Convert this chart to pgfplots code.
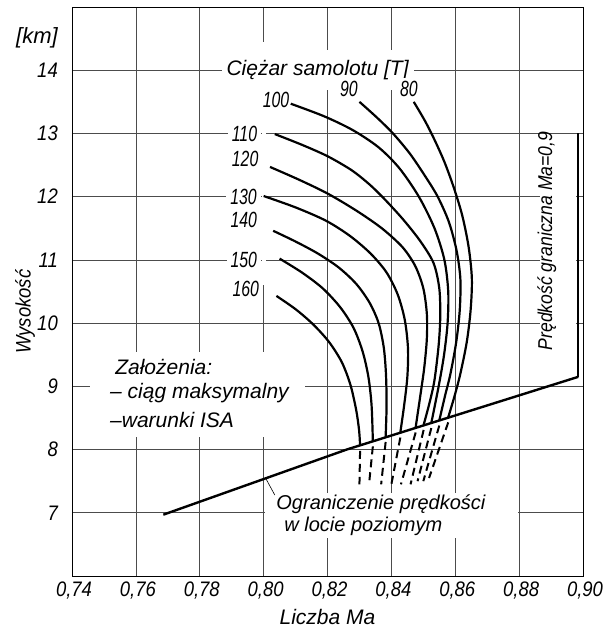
\documentclass[border=0pt]{standalone}
\usepackage{fontspec}
\setmainfont{Liberation Sans}
\newfontfamily\tfont{Liberation Sans}[FakeStretch=0.88]
\newfontfamily\afont{Liberation Sans}
\newfontfamily\nfont{Liberation Sans}[FakeStretch=0.72]
\usepackage{pgfplots}
\pgfplotsset{compat=1.18}
\begin{document}
\begin{tikzpicture}
\begin{axis}[
  name=ax,
  width=511pt, height=569pt, scale only axis,
  xmin=0.74, xmax=0.90, ymin=6, ymax=15,
  xtick={0.74,0.76,0.78,0.80,0.82,0.84,0.86,0.88,0.90},
  xticklabels={{0,74},{0,76},{0,78},{0,80},{0,82},{0,84},{0,86},{0,88},{0,90}},
  ytick={7,8,9,10,11,12,13,14},
  /pgf/number format/assume math mode=true,
  grid=major,
  major grid style={line width=0.6pt, black!70},
  major tick length=0pt,
  axis line style={line width=0.9pt},
  xticklabel style={font=\tfont\itshape\fontsize{21}{25}\selectfont, anchor=center, yshift=-15pt, xshift=2pt, inner sep=0pt},
  yticklabel style={font=\tfont\itshape\fontsize{21}{25}\selectfont, anchor=east, xshift=-14pt, inner sep=0pt},
  clip=false,
]
% masks over grid (white)
\fill[white] (axis cs:0.7456,8.2) rectangle (axis cs:0.813,9.55);
\fill[white] (axis cs:0.8865,9.4) rectangle (axis cs:0.8978,12.95);
\draw[white, line width=4pt] (axis cs:0.80,14.45) -- (axis cs:0.80,10.6);
\draw[white, line width=4pt] (axis cs:0.8005,7.0) -- (axis cs:0.8795,7.0);

% texts
\node[font=\afont\itshape\fontsize{21}{25}\selectfont, fill=white, inner xsep=5pt, inner ysep=10pt] at (axis cs:0.8169,14.0) {Ciężar samolotu [T]};
\node[font=\nfont\itshape\fontsize{22}{26}\selectfont, fill=white, inner sep=3pt] at (axis cs:0.8267,13.70) {90};
\node[font=\nfont\itshape\fontsize{22}{26}\selectfont, fill=white, inner sep=3pt] at (axis cs:0.8455,13.70) {80};
\node[font=\nfont\itshape\fontsize{22}{26}\selectfont, fill=white, inner sep=3pt] at (axis cs:0.8039,13.53) {100};
\node[font=\nfont\itshape\fontsize{22}{26}\selectfont, fill=white, inner sep=4pt] at (axis cs:0.7940,13.00) {110};
\node[font=\nfont\itshape\fontsize{22}{26}\selectfont, fill=white, inner sep=3pt] at (axis cs:0.7942,12.60) {120};
\node[font=\nfont\itshape\fontsize{22}{26}\selectfont, fill=white, inner sep=4pt] at (axis cs:0.7937,12.00) {130};
\node[font=\nfont\itshape\fontsize{22}{26}\selectfont, fill=white, inner sep=3pt] at (axis cs:0.7938,11.63) {140};
\node[font=\nfont\itshape\fontsize{22}{26}\selectfont, fill=white, inner sep=4pt] at (axis cs:0.7938,11.00) {150};
\node[font=\nfont\itshape\fontsize{22}{26}\selectfont, fill=white, inner sep=3pt] at (axis cs:0.7944,10.54) {160};

\node[font=\afont\itshape\fontsize{21}{25}\selectfont, anchor=west, inner sep=0pt] at (axis cs:0.7535,9.31) {Założenia:};
\node[font=\afont\itshape\fontsize{21}{25}\selectfont, anchor=west, inner sep=0pt] at (axis cs:0.7519,8.90) {– ciąg maksymalny};
\node[font=\afont\itshape\fontsize{21}{25}\selectfont, anchor=west, inner sep=0pt] at (axis cs:0.7519,8.47) {–warunki ISA};

\node[font=\afont\itshape\fontsize{20}{24}\selectfont, anchor=north west, align=left, fill=white, inner xsep=3pt, inner ysep=2pt] at (axis cs:0.8030,7.32) {Ograniczenie prędkości\\[-2pt]\hspace*{0.4em}w locie poziomym};
\draw[line width=0.6pt] (axis cs:0.8006,7.55) -- (axis cs:0.8035,7.28);

\node[rotate=90, font=\tfont\itshape\fontsize{20}{24}\selectfont, inner sep=0pt] at (axis cs:0.8887,11.3) {Prędkość graniczna Ma=0,9};

\node[rotate=90, font=\tfont\itshape\fontsize{21}{25}\selectfont] at ([xshift=-47pt]axis cs:0.74,10.18) {Wysokość};
\node[font=\afont\itshape\fontsize{22}{26}\selectfont, anchor=east, inner sep=0pt] at ([xshift=-14pt]axis cs:0.74,14.52) {[km]};
\node[font=\afont\itshape\fontsize{21}{25}\selectfont] at ([yshift=-41pt]axis cs:0.82,6) {Liczba Ma};

% limit lines
\addplot[black, line width=2.4pt] coordinates {(0.7686,6.97) (0.826,8.0) (0.8985,9.15)};
\addplot[black, line width=2.4pt] coordinates {(0.8985,9.15) (0.8985,13.0)};

% weight curves: 80, 90, 100, 110, 120, 130, 140, 150, 160 t
\addplot[black, line width=2.2pt, smooth] coordinates {(0.8470,13.50) (0.8505,13.20) (0.8535,12.90) (0.8566,12.55) (0.8595,12.15) (0.8622,11.70) (0.8642,11.20) (0.8652,10.70) (0.8648,10.20) (0.8636,9.70) (0.8616,9.20) (0.8598,8.85) (0.8578,8.51)};
\addplot[black, line width=2.2pt, smooth] coordinates {(0.8300,13.50) (0.8355,13.25) (0.8405,13.00) (0.8458,12.68) (0.8505,12.33) (0.8545,12.00) (0.8580,11.60) (0.8604,11.15) (0.8616,10.70) (0.8614,10.20) (0.8603,9.70) (0.8585,9.20) (0.8568,8.85) (0.8550,8.46)};
\addplot[black, line width=2.2pt, smooth] coordinates {(0.8085,13.47) (0.8190,13.27) (0.8280,13.05) (0.8360,12.78) (0.8425,12.45) (0.8486,12.00) (0.8535,11.50) (0.8566,11.00) (0.8578,10.50) (0.8576,10.00) (0.8565,9.50) (0.8548,9.00) (0.8525,8.42)};
\addplot[black, line width=2.2pt, smooth] coordinates {(0.8035,12.99) (0.8120,12.82) (0.8200,12.64) (0.8275,12.42) (0.8330,12.20) (0.8375,11.98) (0.8435,11.65) (0.8490,11.30) (0.8532,10.95) (0.8550,10.55) (0.8553,10.10) (0.8548,9.65) (0.8535,9.10) (0.8520,8.75) (0.8501,8.39)};
\addplot[black, line width=2.2pt, smooth] coordinates {(0.8020,12.47) (0.8110,12.27) (0.8200,12.05) (0.8290,11.78) (0.8370,11.50) (0.8435,11.20) (0.8475,10.90) (0.8500,10.55) (0.8511,10.15) (0.8511,9.75) (0.8503,9.30) (0.8492,8.90) (0.8476,8.35)};
\addplot[black, line width=2.2pt, smooth] coordinates {(0.8000,12.01) (0.8100,11.83) (0.8195,11.62) (0.8270,11.38) (0.8335,11.10) (0.8385,10.80) (0.8420,10.45) (0.8442,10.05) (0.8452,9.60) (0.8450,9.15) (0.8440,8.70) (0.8428,8.27)};
\addplot[black, line width=2.2pt, smooth] coordinates {(0.8030,11.46) (0.8100,11.29) (0.8170,11.10) (0.8235,10.88) (0.8290,10.62) (0.8332,10.32) (0.8360,10.00) (0.8376,9.62) (0.8383,9.20) (0.8385,8.70) (0.8382,8.20)};
\addplot[black, line width=2.2pt, smooth] coordinates {(0.8050,11.02) (0.8120,10.80) (0.8185,10.55) (0.8240,10.25) (0.8282,9.92) (0.8310,9.55) (0.8328,9.15) (0.8338,8.70) (0.8342,8.13)};
\addplot[black, line width=2.2pt, smooth] coordinates {(0.8040,10.43) (0.8100,10.22) (0.8155,9.98) (0.8205,9.70) (0.8245,9.38) (0.8272,9.02) (0.8290,8.62) (0.8299,8.30) (0.8302,8.06)};

% dashed continuations below the limit
\addplot[black, line width=2pt, dash pattern=on 8pt off 5pt] coordinates {(0.8302,7.98) (0.8300,7.45)};
\addplot[black, line width=2pt, dash pattern=on 8pt off 5pt] coordinates {(0.8342,8.05) (0.8330,7.45)};
\addplot[black, line width=2pt, dash pattern=on 8pt off 5pt] coordinates {(0.8382,8.12) (0.8368,7.45)};
\addplot[black, line width=2pt, dash pattern=on 8pt off 5pt] coordinates {(0.8428,8.19) (0.8400,7.45)};
\addplot[black, line width=2pt, dash pattern=on 8pt off 5pt] coordinates {(0.8476,8.27) (0.8430,7.45)};
\addplot[black, line width=2pt, dash pattern=on 8pt off 5pt] coordinates {(0.8501,8.31) (0.8460,7.45)};
\addplot[black, line width=2pt, dash pattern=on 8pt off 5pt] coordinates {(0.8525,8.34) (0.8482,7.50)};
\addplot[black, line width=2pt, dash pattern=on 8pt off 5pt] coordinates {(0.8550,8.38) (0.8500,7.50)};
\addplot[black, line width=2pt, dash pattern=on 8pt off 5pt] coordinates {(0.8578,8.43) (0.8518,7.55)};
\end{axis}
\pgfresetboundingbox
\path[use as bounding box] ([shift={(-72pt,-54pt)}]ax.south west) rectangle ([shift={(30pt,7pt)}]ax.north east);
\end{tikzpicture}
\end{document}
